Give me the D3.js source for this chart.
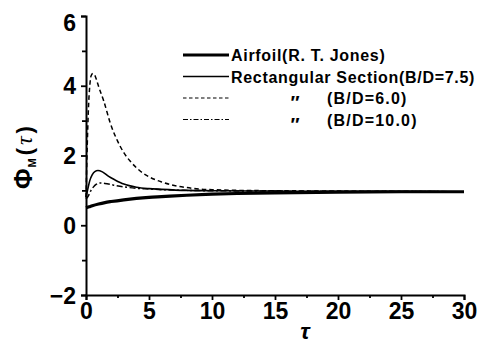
<!DOCTYPE html>
<html>
<head>
<meta charset="utf-8">
<script src="https://cdn.jsdelivr.net/npm/d3@7"></script>
<style>
  html, body { margin: 0; padding: 0; background: #fff; }
  svg { display: block; }
  text { font-family: "Liberation Sans", Arial, sans-serif; font-weight: bold; fill: #000; }
</style>
</head>
<body>
<svg id="chart" width="480" height="344"></svg>
<script>
// Indicial moment function Φ_M(τ) for an airfoil and rectangular sections
const airfoilTau = [0, 0.25, 0.5, 1, 1.5, 2, 3, 4, 5, 6, 8, 10, 12, 15, 20, 25, 30];
const airfoilPhi = [0.50, 0.53, 0.56, 0.61, 0.65, 0.68, 0.73, 0.77, 0.80, 0.82, 0.86, 0.89, 0.91, 0.93, 0.95, 0.96, 0.96];

const rect75Tau = [0, 0.15, 0.3, 0.5, 0.7, 0.95, 1.3, 1.8, 2.3, 3, 4, 5, 6, 8, 10, 15, 20, 25, 30];
const rect75Phi = [0.80, 1.05, 1.28, 1.45, 1.54, 1.57, 1.53, 1.40, 1.30, 1.18, 1.09, 1.05, 1.03, 1.00, 0.99, 0.98, 0.97, 0.97, 0.96];

const rect6Tau = [0, 0.1, 0.2, 0.3, 0.4, 0.55, 0.7, 0.85, 1.0, 1.4, 2.0, 2.5, 3.0, 3.5, 4.0, 4.5, 5, 6, 7, 8, 9, 10, 12, 15, 20, 25, 30];
const rect6Phi = [0.80, 2.30, 3.40, 4.00, 4.28, 4.35, 4.30, 4.15, 3.98, 3.57, 2.85, 2.42, 2.08, 1.84, 1.65, 1.50, 1.39, 1.24, 1.14, 1.08, 1.04, 1.02, 1.00, 0.99, 0.98, 0.97, 0.96];

const rect10Tau = [0, 0.2, 0.4, 0.6, 0.8, 1.1, 1.5, 2.2, 3, 4, 5, 6, 8, 10, 15, 20, 25, 30];
const rect10Phi = [0.75, 0.85, 1.00, 1.10, 1.17, 1.21, 1.20, 1.15, 1.10, 1.06, 1.04, 1.02, 1.00, 0.99, 0.98, 0.97, 0.97, 0.96];

const xTicks = [0, 5, 10, 15, 20, 25, 30];
const xMinor = [2.5, 7.5, 12.5, 17.5, 22.5, 27.5];
const yTicks = [-2, 0, 2, 4, 6];
const yMinor = [-1, 1, 3, 5];

const legendLabels = [
  ["Airfoil(R. T. Jones)"],
  ["Rectangular Section(B/D=7.5)"],
  ["\u2033", "(B/D=6.0)"],
  ["\u2033", "(B/D=10.0)"]
];

const series = [
  { tau: airfoilTau, phi: airfoilPhi, width: 3.2, dash: null },
  { tau: rect75Tau, phi: rect75Phi, width: 1.6, dash: null },
  { tau: rect6Tau, phi: rect6Phi, width: 1.5, dash: "4.5,3" },
  { tau: rect10Tau, phi: rect10Phi, width: 1.5, dash: "6,2.5,2,2.5" }
];

const svg = d3.select("#chart");
const x = d3.scaleLinear().domain([0, 30]).range([86, 464]);
const y = d3.scaleLinear().domain([-2, 6]).range([295, 16]);

// axes
const gx = svg.append("g").attr("transform", `translate(0,${y(-2)})`);
gx.call(d3.axisBottom(x).tickValues(xTicks).tickSize(5).tickFormat(d3.format("d")));
const gxm = svg.append("g").attr("transform", `translate(0,${y(-2)})`);
gxm.call(d3.axisBottom(x).tickValues(xMinor).tickSize(3).tickFormat(""));

const gy = svg.append("g").attr("transform", `translate(${x(0)},0)`);
gy.call(d3.axisLeft(y).tickValues(yTicks).tickSize(5).tickFormat(d3.format("d")));
const gym = svg.append("g").attr("transform", `translate(${x(0)},0)`);
gym.call(d3.axisLeft(y).tickValues(yMinor).tickSize(4).tickFormat(""));

svg.selectAll(".domain").attr("stroke", "#000").attr("stroke-width", 2);
svg.selectAll(".tick line").attr("stroke", "#000").attr("stroke-width", 1.8);
gxm.select(".domain").remove();
gym.select(".domain").remove();

gx.selectAll(".tick text")
  .attr("font-size", 23).attr("font-family", "Liberation Sans, Arial, sans-serif")
  .attr("font-weight", "bold").attr("y", 8);
gy.selectAll(".tick text")
  .attr("font-size", 23).attr("font-family", "Liberation Sans, Arial, sans-serif")
  .attr("font-weight", "bold").attr("x", -10)
  .attr("dy", d => d === 6 ? "0.65em" : "0.35em")
  .text(d => d < 0 ? "\u2212" + Math.abs(d) : d);

// curves
const line = d3.line()
  .x(d => x(d[0]))
  .y(d => y(d[1]))
  .curve(d3.curveMonotoneX);

series.forEach(s => {
  svg.append("path")
    .datum(s.tau.map((t, i) => [t, s.phi[i]]))
    .attr("d", line)
    .attr("fill", "none")
    .attr("stroke", "#000")
    .attr("stroke-width", s.width)
    .attr("stroke-dasharray", s.dash);
});

// legend
const legendRows = [55, 76.5, 98, 119.5];
series.forEach((s, i) => {
  svg.append("line")
    .attr("x1", 183).attr("x2", 229)
    .attr("y1", legendRows[i]).attr("y2", legendRows[i])
    .attr("stroke", "#000")
    .attr("stroke-width", i === 0 ? 3.2 : (i === 1 ? 1.4 : 1.2))
    .attr("stroke-dasharray", i === 2 ? "3.5,2.5" : (i === 3 ? "5,2,1.5,2" : null));
  const lab = legendLabels[i];
  if (lab.length === 1) {
    svg.append("text")
      .attr("x", 231).attr("y", legendRows[i] + 6)
      .attr("font-size", 16).attr("letter-spacing", 0.7)
      .text(lab[0]);
  } else {
    svg.append("text")
      .attr("x", 294).attr("y", legendRows[i] + 11)
      .attr("font-size", 19).attr("text-anchor", "middle")
      .attr("font-style", "italic")
      .text(lab[0]);
    svg.append("text")
      .attr("x", 327).attr("y", legendRows[i] + 6)
      .attr("font-size", 16).attr("letter-spacing", 1.2)
      .text(lab[1]);
  }
});

// axis titles
svg.append("text")
  .attr("x", 305).attr("y", 339)
  .attr("text-anchor", "middle")
  .attr("font-size", 23)
  .attr("font-family", "Liberation Serif, serif")
  .attr("font-style", "italic")
  .attr("font-weight", "normal")
  .text("τ");

const yt = svg.append("text")
  .attr("transform", "translate(32,189) rotate(-90)")
  .attr("font-size", 25);
yt.append("tspan").text("Φ");
yt.append("tspan").attr("font-size", 11).attr("dy", 4).attr("dx", 1).text("M");
yt.append("tspan").attr("font-size", 22).attr("dy", -4).attr("dx", 3).text("(");
yt.append("tspan").attr("font-size", 24).attr("dx", 3)
  .attr("font-family", "Liberation Serif, serif").attr("font-style", "italic").attr("font-weight", "normal")
  .text("τ");
yt.append("tspan").attr("font-size", 22).attr("dx", 3).text(")");
</script>
</body>
</html>
